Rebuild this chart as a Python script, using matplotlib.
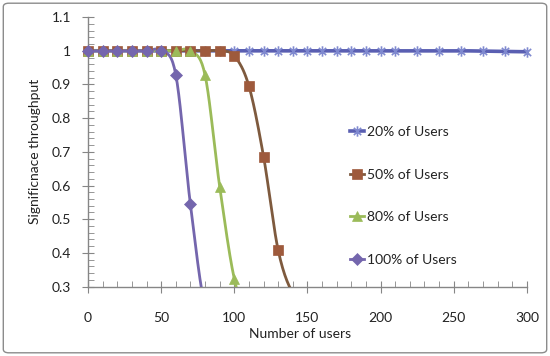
import numpy as np
import matplotlib
matplotlib.use('Agg')
import matplotlib.pyplot as plt
from matplotlib.path import Path
from matplotlib.patches import FancyBboxPatch
from matplotlib.ticker import MultipleLocator

plt.rcParams['font.family'] = ['Lato', 'DejaVu Sans']

# data
users_20 = [0, 10, 20, 30, 40, 50, 60, 70, 80, 90, 100, 110, 120, 130, 140, 150,
            160, 170, 180, 190, 200, 210, 225, 240, 255, 270, 285, 300]
thr_20 = [1.0, 1.0, 1.0, 1.0, 1.0, 1.0, 1.0, 1.0, 1.0, 1.0, 1.0, 1.0, 1.0, 1.0,
          1.0, 1.0, 1.0, 1.0, 1.0, 1.0, 1.0, 1.0, 1.0, 1.0, 1.0, 0.999, 0.998, 0.997]

users_50 = [0, 10, 20, 30, 40, 50, 60, 70, 80, 90, 100, 110, 120, 130, 140, 150]
thr_50 = [1.0, 1.0, 1.0, 1.0, 1.0, 1.0, 1.0, 1.0, 1.0, 1.0, 0.985, 0.895, 0.686, 0.408, 0.28, 0.25]

users_80 = [0, 10, 20, 30, 40, 50, 60, 70, 80, 90, 100, 110, 120]
thr_80 = [1.0, 1.0, 1.0, 1.0, 1.0, 1.0, 1.0, 1.0, 0.928, 0.597, 0.323, 0.2, 0.15]

users_100 = [0, 10, 20, 30, 40, 50, 60, 70, 80, 90]
thr_100 = [1.0, 1.0, 1.0, 1.0, 1.0, 1.0, 0.929, 0.544, 0.24, 0.2]

labels = ['20% of Users', '50% of Users', '80% of Users', '100% of Users']

# x with a vertical bar, like the Excel asterisk marker
star = Path([(0, -1), (0, 1), (-0.7, -0.7), (0.7, 0.7), (-0.7, 0.7), (0.7, -0.7)],
            [Path.MOVETO, Path.LINETO, Path.MOVETO, Path.LINETO, Path.MOVETO, Path.LINETO])


def smooth(x, y, steps=20):
    # catmull-rom curve through the points (Excel "smoothed line")
    x = np.asarray(x, float)
    y = np.asarray(y, float)
    px = np.concatenate(([2*x[0]-x[1]], x, [2*x[-1]-x[-2]]))
    py = np.concatenate(([y[0]], y, [y[-1]]))
    xs, ys = [], []
    t = np.linspace(0, 1, steps, endpoint=False)
    for i in range(1, len(px)-2):
        for p, out in ((px, xs), (py, ys)):
            p0, p1, p2, p3 = p[i-1], p[i], p[i+1], p[i+2]
            m1 = (p2 - p0) / 2
            m2 = (p3 - p1) / 2
            h00 = 2*t**3 - 3*t**2 + 1
            h10 = t**3 - 2*t**2 + t
            h01 = -2*t**3 + 3*t**2
            h11 = t**3 - t**2
            out.extend(h00*p1 + h10*m1 + h01*p2 + h11*m2)
    xs.append(x[-1])
    ys.append(y[-1])
    return np.array(xs), np.array(ys)


fig = plt.figure(figsize=(5.5, 3.56), dpi=100)
ax = fig.add_axes([0.16, 0.195, 0.798, 0.757])

series = [
    (users_20, thr_20, '#5a5fb2', '#7f89cf', star, 7.5, 2.6),
    (users_50, thr_50, '#7e5a3e', '#9e5a3c', 's', 6.5, 2.0),
    (users_80, thr_80, '#9bbb59', '#9bbb59', '^', 7.5, 2.0),
    (users_100, thr_100, '#7466ad', '#7466ad', 'D', 6, 2.0),
]

for (xv, yv, lc, mc, mk, ms, lw), lab in zip(series, labels):
    sx, sy = smooth(xv, yv)
    ax.plot(sx, sy, color=lc, lw=lw, zorder=3)
    yv = np.asarray(yv, float)
    show = yv >= 0.3
    mew = 1.2 if mk is star else 0.5
    ax.plot(np.asarray(xv)[show], yv[show], ls='none', marker=mk, ms=ms,
            mfc=mc, mec=mc, mew=mew, clip_on=False, zorder=4)
    ax.plot([], [], color=lc, lw=lw, marker=mk, ms=ms, mfc=mc, mec=mc,
            mew=mew, label=lab)

ax.set_xlim(0, 300)
ax.set_ylim(0.3, 1.1)
ax.xaxis.set_major_locator(MultipleLocator(50))
ax.xaxis.set_minor_locator(MultipleLocator(10))
ax.yaxis.set_major_locator(MultipleLocator(0.1))
ax.yaxis.set_minor_locator(MultipleLocator(0.02))
ax.set_yticks(np.arange(0.3, 1.11, 0.1))
ax.set_yticklabels(['0.3', '0.4', '0.5', '0.6', '0.7', '0.8', '0.9', '1', '1.1'])

for s in ['top', 'right']:
    ax.spines[s].set_visible(False)
for s in ['left', 'bottom']:
    ax.spines[s].set_color('#868686')
    ax.spines[s].set_linewidth(1.0)

ax.tick_params(which='major', direction='inout', length=8, color='#868686',
               labelsize=10, labelcolor='#222222')
ax.tick_params(which='minor', direction='in', length=4, color='#868686')
ax.tick_params(axis='x', which='major', pad=14)
ax.tick_params(axis='y', which='major', pad=8)

ax.set_xlabel('Number of users', fontsize=10, color='#222222')
ax.xaxis.set_label_coords(0.483, -0.152)
ax.set_ylabel('Significnace throughput', fontsize=10, color='#222222', labelpad=8)

ax.legend(loc='center left', bbox_to_anchor=(350/550, 1 - 196/356),
          bbox_transform=fig.transFigure, frameon=False, fontsize=10,
          labelspacing=2.2, handlelength=1.0, handletextpad=0.2, borderpad=0,
          borderaxespad=0, labelcolor='#222222')

border = FancyBboxPatch((0.006, 0.009), 0.988, 0.982, boxstyle='round,pad=0,rounding_size=0.01',
                        transform=fig.transFigure, fill=False, ec='#8c8c8c', lw=1.0)
fig.patches.append(border)

fig.savefig('out.png', dpi=100)
